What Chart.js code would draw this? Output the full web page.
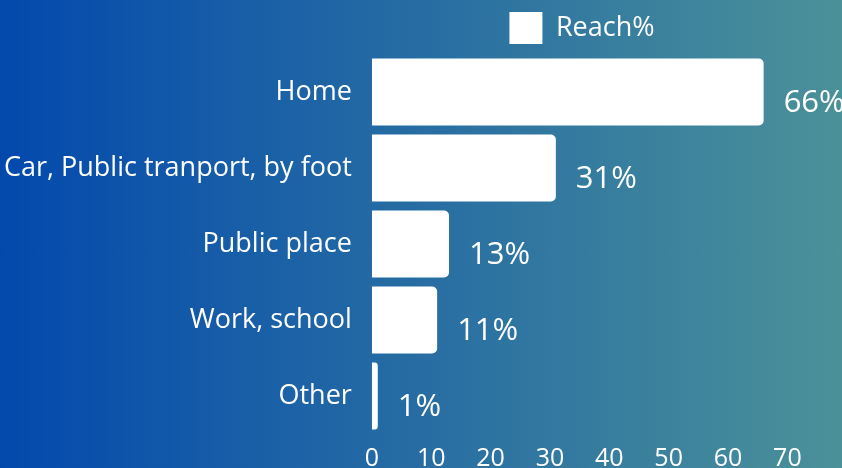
<!DOCTYPE html>
<html>
<head>
<meta charset="utf-8">
<script src="https://cdn.jsdelivr.net/npm/chart.js@4/dist/chart.umd.min.js"></script>
<style>
  html, body { margin: 0; padding: 0; overflow: hidden; }
  body { width: 842px; height: 468px; background: linear-gradient(to right, #0349ad, #4b9199); }
  #wrap { position: relative; width: 842px; height: 476px; }
</style>
</head>
<body>
<div id="wrap"><canvas id="chart1"></canvas></div>
<script>
const places = ["Home", "Car, Public tranport, by foot", "Public place", "Work, school", "Other"];
const reach = [66, 31, 13, 11, 1];
const seriesName = "Reach%";

// draws the "66%" style labels next to each bar
const valueLabels = {
  id: "valueLabels",
  afterDatasetsDraw(chart) {
    const ctx = chart.ctx;
    const meta = chart.getDatasetMeta(0);
    ctx.save();
    ctx.fillStyle = "#ffffff";
    ctx.font = "31px 'Open Sans'";
    ctx.textAlign = "left";
    ctx.textBaseline = "middle";
    meta.data.forEach((bar, i) => {
      ctx.fillText(reach[i] + "%", bar.x + 20, bar.y + 11);
    });
    ctx.restore();
  }
};

// nudge the legend to the right, as in the original
const legendShift = {
  id: "legendShift",
  afterLayout(chart) {
    chart.legend.left += 165;
    chart.legend.right += 165;
  }
};

const ctx = document.getElementById("chart1").getContext("2d");
const myChart = new Chart(ctx, {
  type: "bar",
  data: {
    labels: places,
    datasets: [{
      label: seriesName,
      data: reach,
      backgroundColor: "#ffffff",
      borderRadius: 5,
      borderSkipped: "start",
      barPercentage: 0.88,
      categoryPercentage: 1
    }]
  },
  options: {
    indexAxis: "y",
    responsive: true,
    maintainAspectRatio: false,
    animation: false,
    layout: { padding: { left: -8, right: 0, top: 4, bottom: 0 } },
    plugins: {
      legend: {
        labels: {
          color: "#ffffff",
          font: { family: "'Open Sans'", size: 27 },
          boxWidth: 33,
          boxHeight: 32,
          padding: 8
        }
      },
      tooltip: { enabled: false }
    },
    scales: {
      x: {
        min: 0,
        max: 79.2,
        grid: { display: false },
        border: { display: false },
        ticks: {
          stepSize: 10,
          includeBounds: false,
          color: "#ffffff",
          font: { family: "'Open Sans'", size: 25 },
          maxRotation: 0,
          padding: 2,
          callback: (v) => (v > 70 ? "" : v)
        }
      },
      y: {
        grid: { display: false },
        border: { display: false },
        ticks: {
          color: "#ffffff",
          font: { family: "'Open Sans'", size: 27 },
          padding: 12
        }
      }
    }
  },
  plugins: [valueLabels, legendShift]
});
</script>
</body>
</html>
